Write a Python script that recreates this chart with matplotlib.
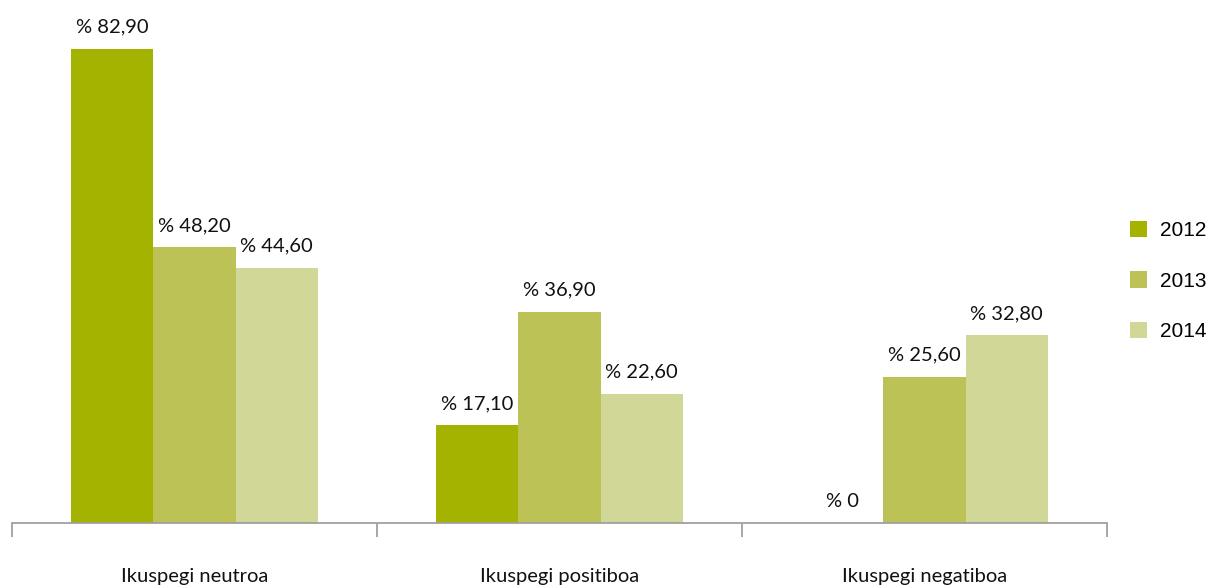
import matplotlib
matplotlib.use("Agg")
import matplotlib.pyplot as plt
from matplotlib.patches import Patch

categories = ["Ikuspegi neutroa", "Ikuspegi positiboa", "Ikuspegi negatiboa"]
years = ["2012", "2013", "2014"]
values_2012 = [82.90, 17.10, 0.0]
values_2013 = [48.20, 36.90, 25.60]
values_2014 = [44.60, 22.60, 32.80]
colors = ["#a3b300", "#bcc256", "#d1d796"]

plt.rcParams['font.family'] = ['Lato', 'DejaVu Sans']

fig = plt.figure(figsize=(12.11, 5.88), dpi=100)
ax = fig.add_axes([12/1211, 65/588, (1107-12)/1211, 523/588])

width = 0.2247
series = [values_2012, values_2013, values_2014]
centers = [i + 0.5 for i in range(len(categories))]
for k, (vals, col) in enumerate(zip(series, colors)):
    xs = [c + (k - 1) * width for c in centers]
    ax.bar(xs, vals, width=width, color=col, linewidth=0)
    for x, v in zip(xs, vals):
        txt = "% " + (f"{v:.2f}".replace(".", ",") if v != 0 else "0")
        ax.text(x, v + 2.3, txt, ha="center", va="bottom", fontsize=14.5, color="#111111")

ax.set_xlim(0, 3)
ax.set_ylim(0, 91.4)
for s in ["top", "right", "left"]:
    ax.spines[s].set_visible(False)
ax.spines["bottom"].set_color("#a0a0a0")
ax.spines["bottom"].set_linewidth(1.3)
ax.set_yticks([])
ax.set_xticks([0, 1, 2, 3])
ax.set_xticklabels([])
ax.tick_params(axis="x", length=10, width=1.3, color="#a0a0a0")
for c, name in zip(centers, categories):
    ax.text(c, -9.3, name, ha="center", va="center", fontsize=14.5, color="#111111")

handles = [Patch(facecolor=c, edgecolor="none") for c in colors]
fig.legend(handles, years, loc="center left", bbox_to_anchor=(1130/1211, 1 - 281/588),
           frameon=False, handlelength=0.82, handleheight=0.82,
           labelspacing=1.5, handletextpad=0.62, borderpad=0, borderaxespad=0,
           prop={"family": "Liberation Sans", "size": 15})

fig.savefig("out.png", dpi=100)
